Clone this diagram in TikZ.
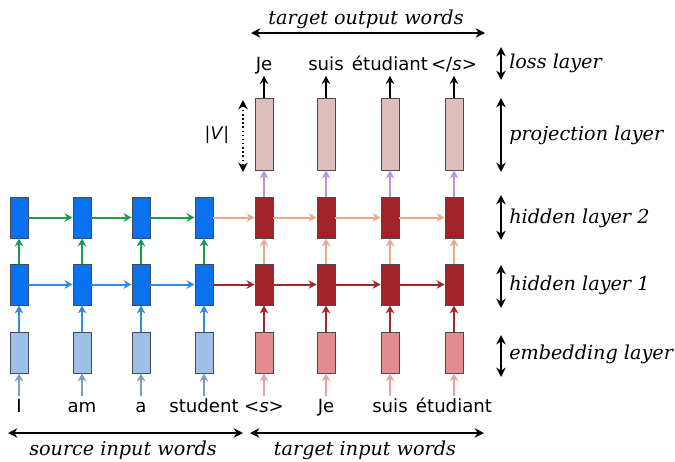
\documentclass[tikz,border=0pt]{standalone}
\usepackage{fontspec}
\setmainfont{DejaVu Sans}
\newfontfamily\lblfont{DejaVu Serif}
\usetikzlibrary{arrows.meta}
\definecolor{encH}{HTML}{0A72F0}
\definecolor{encE}{HTML}{9DC0E8}
\definecolor{decH}{HTML}{A02528}
\definecolor{decE}{HTML}{E38C8E}
\definecolor{proj}{HTML}{DDBDBD}
\definecolor{bord}{HTML}{454A55}
\definecolor{arrBlue}{HTML}{2E8BE0}
\definecolor{arrGreen}{HTML}{1E9A4C}
\definecolor{arrIn}{HTML}{7C9CC0}
\definecolor{arrDark}{HTML}{A0282C}
\definecolor{arrPeach}{HTML}{E9A98A}
\definecolor{arrPurple}{HTML}{C48EE0}
\definecolor{arrPink}{HTML}{ECA0A0}
\tikzset{
  cell/.style={draw=bord, line width=0.7pt, minimum width=13.5pt, minimum height=30.75pt, inner sep=0pt},
  projcell/.style={cell, fill=proj, minimum height=54pt},
  conn/.style={line width=1.5pt, -{Stealth[length=6pt,width=6.5pt]}},
  thick conn/.style={conn, line width=2.1pt},
  word/.style={font=\fontsize{13.6}{15}\selectfont, anchor=base, inner sep=0pt},
  lbl/.style={font=\lblfont\itshape\fontsize{14.4}{16}\selectfont, inner sep=0pt},
  dim/.style={line width=1.1pt, {Stealth[length=7pt,width=7pt]}-{Stealth[length=7pt,width=7pt]}},
}
\begin{document}
\begin{tikzpicture}[x=0.75pt,y=-0.75pt]
\useasboundingbox (0,0) rectangle (675,461);
% encoder
\foreach \i/\x in {1/19,2/82,3/141,4/204}{
  \node[cell, fill=encH] (h2s\i) at (\x,217.5) {};
  \node[cell, fill=encH] (h1s\i) at (\x,284.5) {};
  \node[cell, fill=encE] (es\i) at (\x,352.5) {};
}
% decoder
\foreach \i/\x in {1/264,2/326,3/390,4/454}{
  \node[projcell] (p\i) at (\x,134) {};
  \node[cell, fill=decH] (h2t\i) at (\x,217.5) {};
  \node[cell, fill=decH] (h1t\i) at (\x,284.5) {};
  \node[cell, fill=decE] (et\i) at (\x,352.5) {};
}
% words
\node[word] (ws1) at (19,412) {I};
\node[word] (ws2) at (82,412) {am};
\node[word] (ws3) at (141,412) {a};
\node[word] (ws4) at (204,412) {student};
\node[word] (wt1) at (264,412) {<\textit{s}>};
\node[word] (wt2) at (326,412) {Je};
\node[word] (wt3) at (390,412) {suis};
\node[word] (wt4) at (454,412) {étudiant};
\node[word] (wo1) at (264,70) {Je};
\node[word] (wo2) at (326,70) {suis};
\node[word] (wo3) at (390,70) {étudiant};
\node[word] (wo4) at (454,70) {</\textit{s}>};
\foreach \i/\x in {1/19,2/82,3/141,4/204}{
  \coordinate (ins\i) at (\x,396);
  \draw[conn, arrIn] (ins\i) -- (es\i.south);
  \draw[thick conn, arrBlue] (es\i.north) -- (h1s\i.south);
  \draw[thick conn, arrGreen] (h1s\i.north) -- (h2s\i.south);
}
\foreach \i/\x in {1/264,2/326,3/390,4/454}{
  \coordinate (int\i) at (\x,396);
  \coordinate (outt\i) at (\x,76);
  \draw[conn, arrPink] (int\i) -- (et\i.south);
  \draw[thick conn, arrDark] (et\i.north) -- (h1t\i.south);
  \draw[thick conn, arrPeach] (h1t\i.north) -- (h2t\i.south);
  \draw[thick conn, arrPurple] (h2t\i.north) -- (p\i.south);
  \draw[thick conn, black] (p\i.north) -- (outt\i);
}
\foreach \a/\b in {1/2,2/3,3/4}{
  \draw[conn, arrBlue] (h1s\a.east) -- (h1s\b.west);
  \draw[conn, arrGreen] (h2s\a.east) -- (h2s\b.west);
  \draw[conn, arrDark] (h1t\a.east) -- (h1t\b.west);
  \draw[conn, arrPeach] (h2t\a.east) -- (h2t\b.west);
}
\draw[conn, arrDark] (h1s4.east) -- (h1t1.west);
\draw[conn, arrPeach] (h2s4.east) -- (h2t1.west);
% |V|
\coordinate (vt) at (243,100);
\coordinate (vb) at (243,172);
\draw[dim, dotted, line width=1.1pt] (vt) -- (vb);
\node[font=\fontsize{13}{15}\selectfont, inner sep=0pt] (vlab) at (217,135) {|\textit{V}|};
% top / bottom ranges
\coordinate (tl) at (251,33); \coordinate (tr) at (485,33);
\draw[dim] (tl) -- (tr);
\node[lbl, anchor=base] (tow) at (366,24) {target output words};
\coordinate (sl) at (8,433); \coordinate (sr) at (243,433);
\draw[dim] (sl) -- (sr);
\node[lbl, anchor=base] (siw) at (123,455) {source input words};
\coordinate (tl2) at (250,433); \coordinate (tr2) at (484,433);
\draw[dim] (tl2) -- (tr2);
\node[lbl, anchor=base] (tiw) at (365,455) {target input words};
% right layer labels
\foreach \n/\ya/\yb/\yt/\t in {loss/47/80/63/loss layer, proj/98/172/135/projection layer, hid2/195/240/218/hidden layer 2, hid1/265/308/285/hidden layer 1, emb/335/377/354/embedding layer}{
  \coordinate (\n a) at (501,\ya);
  \coordinate (\n b) at (501,\yb);
  \draw[dim] (\n a) -- (\n b);
  \node[lbl, anchor=west] (\n l) at (509,\yt) {\t};
}
\end{tikzpicture}
\end{document}
